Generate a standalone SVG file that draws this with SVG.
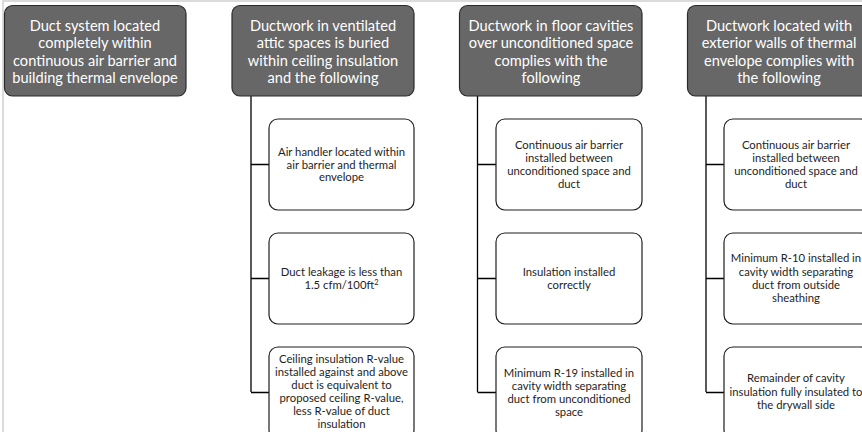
<svg xmlns="http://www.w3.org/2000/svg" width="862" height="432" viewBox="0 0 862 432">
  <style>
    .head rect { fill: #676767; stroke: #2b2b2b; stroke-width: 1.2; }
    .head text { fill: #ffffff; font-family: Lato, "Open Sans", sans-serif; font-size: 14.6px; text-anchor: middle; }
    .item rect { fill: #ffffff; stroke: #1e1e1e; stroke-width: 1.2; }
    .item text { fill: #1e1e1e; font-family: Lato, "Open Sans", sans-serif; font-size: 11.3px; text-anchor: middle; }
    .links path { fill: none; stroke: #000000; stroke-width: 1.3; }
    .frame { stroke: #d0d0d0; stroke-width: 1.5; fill: none; }
  </style>
  <rect width="862" height="432" fill="#ffffff"/>
  <path class="frame" d="M3 432 V1 H862"/>

  <!-- connectors -->
  <g id="connectors" class="links">
    <path d="M251 96 V392 M251 164.5 H269 M251 278.5 H269 M251 392.5 H269"/>
    <path d="M477.5 96 V392 M477.5 164.5 H496 M477.5 278.5 H496 M477.5 392.5 H496"/>
    <path d="M706 96 V392 M706 164.5 H724 M706 278.5 H724 M706 392.5 H724"/>
  </g>

  <!-- column headers -->
  <g id="head-within" class="head">
    <rect x="4.5" y="5.5" width="181.5" height="90.5" rx="8"/>
    <text x="95" y="30.5">Duct system located</text>
    <text x="95" y="48">completely within</text>
    <text x="95" y="65.5">continuous air barrier and</text>
    <text x="95" y="83">building thermal envelope</text>
  </g>
  <g id="head-attic" class="head">
    <rect x="232" y="5.5" width="182" height="90.5" rx="8"/>
    <text x="323" y="30.5">Ductwork in ventilated</text>
    <text x="323" y="48">attic spaces is buried</text>
    <text x="323" y="65.5">within ceiling insulation</text>
    <text x="323" y="83">and the following</text>
  </g>
  <g id="head-floor" class="head">
    <rect x="459.5" y="5.5" width="182.5" height="90.5" rx="8"/>
    <text x="551" y="30.5">Ductwork in floor cavities</text>
    <text x="551" y="48">over unconditioned space</text>
    <text x="551" y="65.5">complies with the</text>
    <text x="551" y="83">following</text>
  </g>
  <g id="head-walls" class="head">
    <rect x="687.5" y="5.5" width="182" height="90.5" rx="8"/>
    <text x="779" y="30.5">Ductwork located with</text>
    <text x="779" y="48">exterior walls of thermal</text>
    <text x="779" y="65.5">envelope complies with</text>
    <text x="779" y="83">the following</text>
  </g>

  <!-- attic column items -->
  <g id="attic-1" class="item">
    <rect x="269" y="119" width="145" height="91" rx="9"/>
    <text x="341.5" y="156">Air handler located within</text>
    <text x="341.5" y="168.7">air barrier and thermal</text>
    <text x="341.5" y="181.4">envelope</text>
  </g>
  <g id="attic-2" class="item">
    <rect x="269" y="233" width="145" height="91" rx="9"/>
    <text x="341.5" y="276">Duct leakage is less than</text>
    <text x="341.5" y="289">1.5 cfm/100ft<tspan font-size="7.5" dy="-4">2</tspan></text>
  </g>
  <g id="attic-3" class="item">
    <rect x="269" y="347" width="145" height="92" rx="9"/>
    <text x="341.5" y="363">Ceiling insulation R-value</text>
    <text x="341.5" y="376">installed against and above</text>
    <text x="341.5" y="389">duct is equivalent to</text>
    <text x="341.5" y="402">proposed ceiling R-value,</text>
    <text x="341.5" y="415">less R-value of duct</text>
    <text x="341.5" y="428">insulation</text>
  </g>

  <!-- floor column items -->
  <g id="floor-1" class="item">
    <rect x="496" y="119" width="146" height="91" rx="9"/>
    <text x="569" y="149">Continuous air barrier</text>
    <text x="569" y="162">installed between</text>
    <text x="569" y="175">unconditioned space and</text>
    <text x="569" y="188">duct</text>
  </g>
  <g id="floor-2" class="item">
    <rect x="496" y="233" width="146" height="91" rx="9"/>
    <text x="569" y="276">Insulation installed</text>
    <text x="569" y="289">correctly</text>
  </g>
  <g id="floor-3" class="item">
    <rect x="496" y="347" width="146" height="92" rx="9"/>
    <text x="569" y="377">Minimum R-19 installed in</text>
    <text x="569" y="390">cavity width separating</text>
    <text x="569" y="403">duct from unconditioned</text>
    <text x="569" y="416">space</text>
  </g>

  <!-- wall column items -->
  <g id="walls-1" class="item">
    <rect x="724" y="119" width="146" height="91" rx="9"/>
    <text x="796" y="149">Continuous air barrier</text>
    <text x="796" y="162">installed between</text>
    <text x="796" y="175">unconditioned space and</text>
    <text x="796" y="188">duct</text>
  </g>
  <g id="walls-2" class="item">
    <rect x="724" y="233" width="146" height="91" rx="9"/>
    <text x="796" y="262">Minimum R-10 installed in</text>
    <text x="796" y="275.5">cavity width separating</text>
    <text x="796" y="289">duct from outside</text>
    <text x="796" y="302">sheathing</text>
  </g>
  <g id="walls-3" class="item">
    <rect x="724" y="347" width="146" height="92" rx="9"/>
    <text x="796" y="382">Remainder of cavity</text>
    <text x="796" y="395.5">insulation fully insulated to</text>
    <text x="796" y="409">the drywall side</text>
  </g>
</svg>
